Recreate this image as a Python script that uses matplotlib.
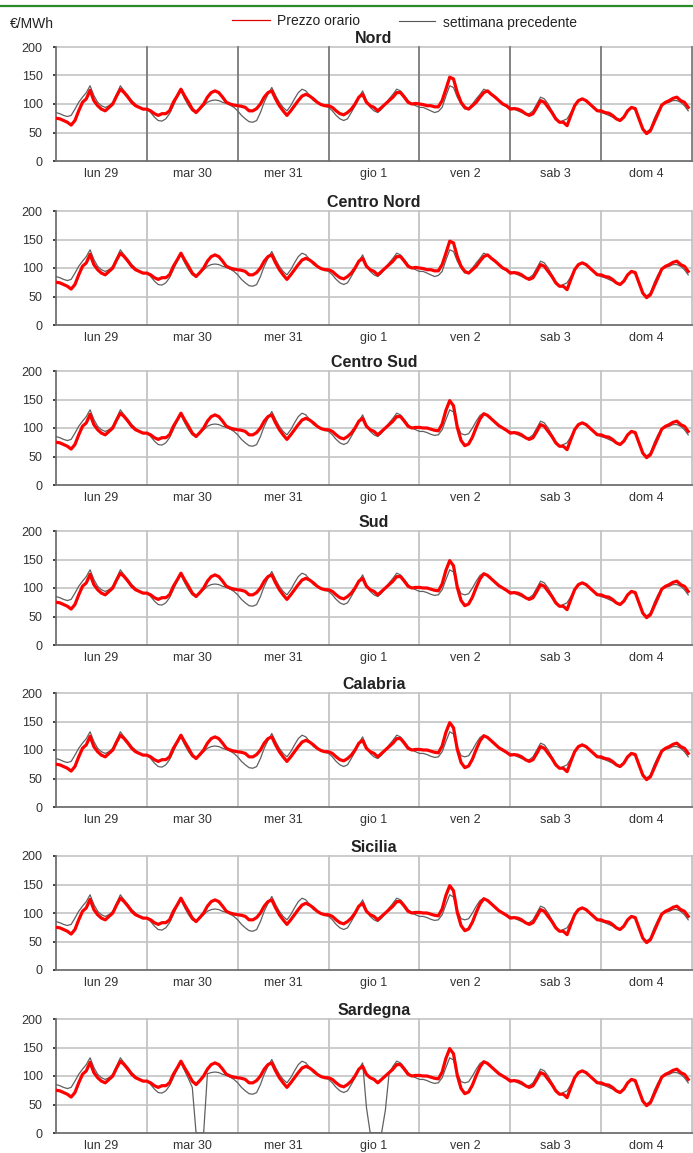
import numpy as np
import matplotlib.pyplot as plt
from matplotlib.lines import Line2D

plt.rcParams['font.family'] = ['Liberation Sans', 'DejaVu Sans']

# zone names and day labels
zone_names = ['Nord', 'Centro Nord', 'Centro Sud', 'Sud', 'Calabria', 'Sicilia', 'Sardegna']
day_labels = ['lun 29', 'mar 30', 'mer 31', 'gio 1', 'ven 2', 'sab 3', 'dom 4']

# hourly price, Nord (one row per day)
prezzo_nord = [
    75, 74, 71, 68, 63, 71, 88, 103, 109, 124, 106, 97, 91, 88, 94, 100, 114, 126, 120, 112, 103, 97, 94, 91,
    91, 88, 83, 80, 83, 83, 88, 103, 114, 126, 114, 103, 91, 85, 92, 100, 112, 120, 123, 120, 112, 103, 100, 98,
    97, 96, 94, 88, 88, 92, 100, 112, 120, 123, 109, 97, 88, 80, 88, 97, 106, 114, 117, 114, 109, 103, 99, 97,
    97, 94, 88, 83, 81, 85, 91, 100, 112, 117, 103, 97, 94, 88, 94, 100, 106, 112, 120, 120, 112, 103, 100, 101,
    100, 99, 97, 97, 95, 95, 106, 126, 147, 144, 120, 103, 94, 91, 97, 103, 112, 120, 123, 117, 112, 106, 100, 97,
    91, 92, 91, 88, 83, 80, 83, 94, 106, 103, 94, 85, 74, 68, 68, 62, 80, 97, 106, 109, 106, 100, 94, 88,
    88, 85, 84, 80, 74, 71, 77, 88, 94, 92, 74, 56, 48, 53, 68, 83, 98, 103, 106, 110, 112, 106, 103, 94,
]
# hourly price of the previous week, Nord
prec_nord = [
    85, 83, 80, 78, 80, 91, 103, 112, 120, 132, 115, 103, 97, 94, 97, 103, 117, 132, 123, 115, 106, 100, 94, 91,
    91, 85, 77, 71, 70, 74, 83, 97, 112, 123, 109, 97, 88, 85, 91, 97, 103, 106, 107, 106, 103, 101, 98, 94,
    88, 80, 74, 69, 68, 71, 85, 103, 117, 129, 115, 103, 94, 88, 97, 109, 120, 126, 123, 115, 106, 103, 99, 96,
    94, 88, 80, 74, 71, 74, 85, 97, 112, 123, 106, 94, 88, 85, 91, 100, 109, 117, 126, 123, 115, 106, 100, 97,
    94, 94, 91, 88, 85, 87, 94, 114, 132, 129, 112, 100, 91, 92, 100, 109, 117, 126, 123, 117, 112, 106, 99, 95,
    94, 91, 88, 85, 83, 83, 88, 100, 112, 109, 100, 88, 77, 68, 71, 74, 85, 97, 106, 109, 106, 100, 94, 88,
    85, 83, 80, 77, 73, 70, 76, 87, 94, 90, 71, 56, 51, 56, 74, 88, 98, 101, 103, 106, 106, 103, 97, 88,
]

# ven 2 in the southern zones
prezzo_ven_sud = [101, 100, 100, 98, 96, 95, 107, 131, 148, 139, 101, 78,
                  69, 72, 84, 101, 116, 125, 122, 116, 110, 104, 100, 96]
prec_ven_sud = [94, 94, 92, 89, 87, 88, 97, 115, 132, 128, 105, 90,
                88, 90, 100, 112, 122, 126, 122, 116, 110, 104, 99, 95]

# Sardegna previous week, mar 30 and gio 1
prec_sardegna_mar = [91, 85, 77, 71, 70, 74, 83, 97, 112, 123, 109, 95,
                     80, 0, 0, 0, 104, 106, 107, 106, 103, 101, 98, 94]
prec_sardegna_gio = [94, 88, 80, 74, 71, 74, 85, 97, 112, 123, 45, 0,
                     0, 0, 0, 40, 105, 117, 126, 123, 115, 106, 100, 97]

south = ['Centro Sud', 'Sud', 'Calabria', 'Sicilia', 'Sardegna']

W, H = 693, 1153
fig = plt.figure(figsize=(W / 100, H / 100), dpi=100)

# green rule on top
fig.add_artist(Line2D([0, 1], [1 - 5.5 / H, 1 - 5.5 / H], color='#2b8a2b', lw=1.6))

# legend and unit
fig.text(10 / W, 1 - 24 / H, '€/MWh', fontsize=10, color='#222', va='center')
fig.add_artist(Line2D([232 / W, 270 / W], [1 - 20 / H, 1 - 20 / H], color='#e00000', lw=0.9))
fig.text(277 / W, 1 - 21 / H, 'Prezzo orario', fontsize=10, color='#222', va='center')
fig.add_artist(Line2D([399 / W, 435 / W], [1 - 21 / H, 1 - 21 / H], color='#555', lw=0.8))
fig.text(443 / W, 1 - 23 / H, 'settimana precedente', fontsize=10, color='#222', va='center')

tops = [47, 211, 371, 531, 693, 856, 1019]
hours = np.arange(168)

for i, zone in enumerate(zone_names):
    red = list(prezzo_nord)
    gray = list(prec_nord)
    if zone in south:
        red[96:120] = prezzo_ven_sud
        gray[96:120] = prec_ven_sud
    if zone == 'Sardegna':
        gray[24:48] = prec_sardegna_mar
        gray[72:96] = prec_sardegna_gio

    top = tops[i]
    ax = fig.add_axes([56 / W, 1 - (top + 114) / H, 636 / W, 114 / H])
    ax.set_xlim(0, 168)
    ax.set_ylim(0, 200)

    vcol = '#7a7a7a' if zone == 'Nord' else '#c4c4c4'
    for y in [50, 100, 150, 200]:
        ax.axhline(y, color='#cccccc', lw=1.4, zorder=1, clip_on=False)
    for d in range(1, 8):
        ax.axvline(24 * d, color=vcol, lw=1.3, zorder=1, clip_on=False)

    ax.plot(hours, gray, color='#606060', lw=0.9, zorder=3)
    ax.plot(hours, red, color='#ff0000', lw=2.3, zorder=4)

    for s in ['top', 'right']:
        ax.spines[s].set_visible(False)
    for s in ['left', 'bottom']:
        ax.spines[s].set_color('#707070')
        ax.spines[s].set_linewidth(1.3)

    ax.set_yticks([0, 50, 100, 150, 200])
    ax.tick_params(axis='y', length=2.5, width=1.2, color='#222', pad=7,
                   labelsize=9, labelcolor='#333')
    ax.set_xticks([12 + 24 * k for k in range(7)])
    ax.set_xticklabels(day_labels)
    ax.tick_params(axis='x', length=0, pad=5, labelsize=9, labelcolor='#333')

    ax.set_title(zone, fontsize=11.5, fontweight='bold', color='#222', pad=3)

fig.savefig('out.png', dpi=100)
